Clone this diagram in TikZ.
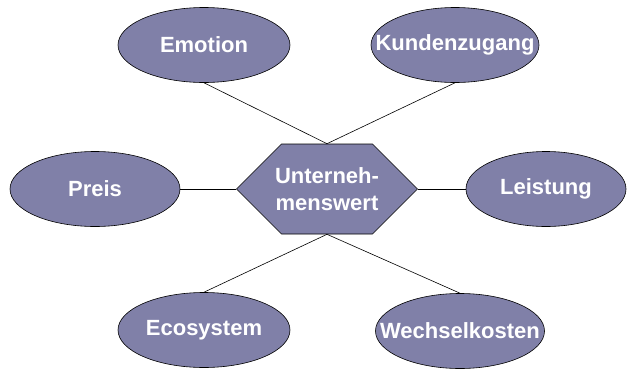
\documentclass[tikz,border=0pt]{standalone}
\usepackage{fontspec}
\setmainfont{Liberation Sans}
\usetikzlibrary{shapes.geometric,shapes.symbols}
\definecolor{ff}{RGB}{128, 128, 168}

\begin{document}
\begin{tikzpicture}[x=1pt, y=1pt,
  every node/.style={inner sep=0pt, text=white, font=\fontsize{22}{27}\selectfont\bfseries},
  blob/.style={ellipse, minimum width=172pt, minimum height=75pt, fill=ff, draw=black, line width=0.6pt},
  hexa/.style={signal, signal to=west and east, signal pointer angle=90, inner xsep=-6.5pt, minimum height=90pt, fill=ff, draw=black, line width=0.6pt, align=center}]
\useasboundingbox (0pt, 0pt) rectangle (627pt, -370pt);
\node (emo) [blob] at (204pt, -45pt) {\makebox[0pt]{Emotion}};
\node (kun) [blob, minimum width=168pt] at (455pt, -45pt) {\makebox[0pt]{Kundenzugang}};
\node (pre) [blob, minimum width=170pt] at (95pt, -189pt) {\makebox[0pt]{Preis}};
\node (lei) [blob, minimum width=160pt] at (546pt, -189pt) {\makebox[0pt]{Leistung}};
\node (eco) [blob] at (204pt, -330pt) {\makebox[0pt]{Ecosystem}};
\node (wec) [blob, minimum width=169pt] at (460pt, -331pt) {\makebox[0pt]{Wechselkosten}};
\node (hex) [hexa] at (327pt, -189pt) {Unterneh-\\menswert};
\draw [line width=0.6pt] (emo.south) to (hex.north);
\draw [line width=0.6pt] (kun.south) to (hex.north);
\draw [line width=0.6pt] (pre.east) to (hex.west);
\draw [line width=0.6pt] (lei.west) to (hex.east);
\draw [line width=0.6pt] (eco.north) to (hex.south);
\draw [line width=0.6pt] (wec.north) to (hex.south);
\end{tikzpicture}
\end{document}
